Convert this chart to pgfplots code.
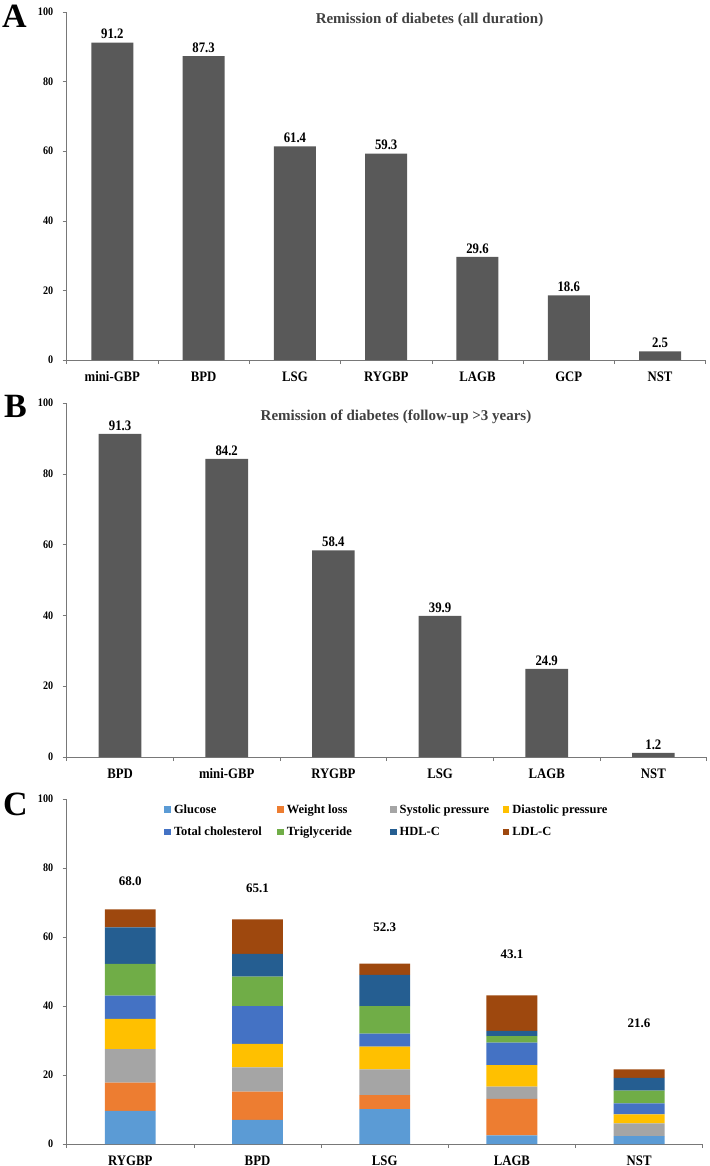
\documentclass[border=0pt]{standalone}
\usepackage{fontspec}
\setmainfont{Liberation Serif}
\newfontfamily\cond{Liberation Serif}[FakeStretch=0.88]
\usepackage{pgfplots}
\usepackage{pgfplotstable}
\pgfplotsset{compat=1.18}
\definecolor{bargray}{RGB}{89,89,89}
\definecolor{axisgray}{RGB}{120,120,120}
\definecolor{titlegray}{RGB}{64,64,64}
\definecolor{cglu}{RGB}{91,155,213}
\definecolor{cwl}{RGB}{237,125,49}
\definecolor{csys}{RGB}{165,165,165}
\definecolor{cdia}{RGB}{255,192,0}
\definecolor{ctc}{RGB}{68,114,196}
\definecolor{ctg}{RGB}{112,173,71}
\definecolor{chdl}{RGB}{37,94,145}
\definecolor{cldl}{RGB}{158,72,14}

\pgfplotstableread{
x v
0 91.2
1 87.3
2 61.4
3 59.3
4 29.6
5 18.6
6 2.5
}\dataA

\pgfplotstableread{
x v
0 91.3
1 84.2
2 58.4
3 39.9
4 24.9
5 1.2
}\dataB

\pgfplotstableread{
x glu wl sys dia tc tg hdl ldl
0 9.6 8.2 9.7 8.8 6.7 9.2 10.6 5.2
1 7.0 8.2 7.0 6.8 11.0 8.5 6.6 10.0
2 10.1 4.1 7.4 6.6 3.8 8.0 9.0 3.3
3 2.5 10.6 3.5 6.3 6.5 1.9 1.5 10.3
4 2.3 0.0 3.7 2.6 3.2 3.7 3.7 2.4
}\dataC

\pgfplotsset{
  panel/.style={
    scale only axis,
    axis lines*=left,
    axis line style={draw=axisgray, line width=0.8pt},
    ymin=0, ymax=100, ytick={0,20,...,100},
    tick align=outside,
    major tick length=4pt,
    minor tick length=4pt,
    ytick style={draw=axisgray, line width=0.6pt},
    major x tick style={draw=none},
    minor x tick style={draw=axisgray, line width=0.6pt},
    /pgf/number format/assume math mode=true,
    yticklabel style={font=\cond\fontsize{11.5}{13}\selectfont\bfseries, xshift=-6pt},
    xticklabel style={font=\cond\fontsize{14.5}{16}\selectfont\bfseries, yshift=-4pt},
    xtick=data,
    clip=false,
  },
  valnodes/.style={
    nodes near coords,
    nodes near coords style={font=\cond\fontsize{14.5}{16}\selectfont\bfseries, text=black,
      /pgf/number format/.cd, fixed, fixed zerofill, precision=1},
  },
}

\begin{document}
\begin{tikzpicture}
\path[use as bounding box] (0pt,0pt) rectangle (709pt,-1166pt);

% ---------------- Panel A
\begin{axis}[panel,
  at={(66.7pt,-360pt)}, anchor=south west,
  width=639pt, height=348pt,
  xmin=-0.5, xmax=6.5,
  minor xtick={-0.5,0.5,...,6.5},
  xticklabels={mini-GBP,BPD,LSG,RYGBP,LAGB,GCP,NST},
  ybar, bar width=0.46, valnodes]
\addplot[fill=bargray, draw=none] table[x=x, y=v] {\dataA};
\end{axis}
\node[anchor=base, font=\fontsize{15}{17}\selectfont\bfseries, text=titlegray] at (429.5pt,-24pt) {Remission of diabetes (all duration)};
\node[anchor=base west, inner sep=0pt, font=\fontsize{34}{38}\selectfont\bfseries] at (2pt,-28pt) {A};

% ---------------- Panel B
\begin{axis}[panel,
  at={(66.7pt,-757pt)}, anchor=south west,
  width=640pt, height=354pt,
  xmin=-0.5, xmax=5.5,
  minor xtick={-0.5,0.5,...,5.5},
  xticklabels={BPD,mini-GBP,RYGBP,LSG,LAGB,NST},
  ybar, bar width=0.4, valnodes]
\addplot[fill=bargray, draw=none] table[x=x, y=v] {\dataB};
\end{axis}
\node[anchor=base, font=\fontsize{15}{17}\selectfont\bfseries, text=titlegray] at (396pt,-420.5pt) {Remission of diabetes (follow-up >3 years)};
\node[anchor=base west, inner sep=0pt, font=\fontsize{34}{38}\selectfont\bfseries] at (4pt,-417pt) {B};

% ---------------- Panel C
\begin{axis}[panel,
  at={(66.7pt,-1144pt)}, anchor=south west,
  width=636pt, height=345pt,
  xmin=-0.5, xmax=4.5,
  minor xtick={-0.5,0.5,...,4.5},
  xticklabels={RYGBP,BPD,LSG,LAGB,NST},
  ybar stacked, bar width=0.4,
  legend columns=4,
  legend cell align=left,
  legend image code/.code={\fill[#1,draw=none] (0pt,-3.4pt) rectangle (6.8pt,3.4pt);},
  legend style={draw=none, fill=none, at={(0.153,0.99)}, anchor=north west,
    font=\fontsize{12.5}{14}\selectfont\bfseries, inner sep=0pt,
    /tikz/every odd column/.append style={column sep=1pt},
    row sep=8pt},
  ]
\addplot[fill=cglu, draw=none] table[x=x, y=glu] {\dataC};
\addlegendentry{\makebox[101pt][l]{Glucose}}
\addplot[fill=cwl, draw=none] table[x=x, y=wl] {\dataC};
\addlegendentry{\makebox[101pt][l]{Weight loss}}
\addplot[fill=csys, draw=none] table[x=x, y=sys] {\dataC};
\addlegendentry{\makebox[101pt][l]{Systolic pressure}}
\addplot[fill=cdia, draw=none] table[x=x, y=dia] {\dataC};
\addlegendentry{\makebox[101pt][l]{Diastolic pressure}}
\addplot[fill=ctc, draw=none] table[x=x, y=tc] {\dataC};
\addlegendentry{Total cholesterol}
\addplot[fill=ctg, draw=none] table[x=x, y=tg] {\dataC};
\addlegendentry{Triglyceride}
\addplot[fill=chdl, draw=none] table[x=x, y=hdl] {\dataC};
\addlegendentry{HDL-C}
\addplot[fill=cldl, draw=none] table[x=x, y=ldl] {\dataC};
\addlegendentry{LDL-C}
\node[font=\fontsize{13}{15}\selectfont\bfseries] at (axis cs:0,76.3) {68.0};
\node[font=\fontsize{13}{15}\selectfont\bfseries] at (axis cs:1,74.0) {65.1};
\node[font=\fontsize{13}{15}\selectfont\bfseries] at (axis cs:2,62.7) {52.3};
\node[font=\fontsize{13}{15}\selectfont\bfseries] at (axis cs:3,55.1) {43.1};
\node[font=\fontsize{13}{15}\selectfont\bfseries] at (axis cs:4,34.9) {21.6};
\end{axis}
\node[anchor=base west, inner sep=0pt, font=\fontsize{34}{38}\selectfont\bfseries] at (3pt,-815pt) {C};
\end{tikzpicture}
\end{document}
